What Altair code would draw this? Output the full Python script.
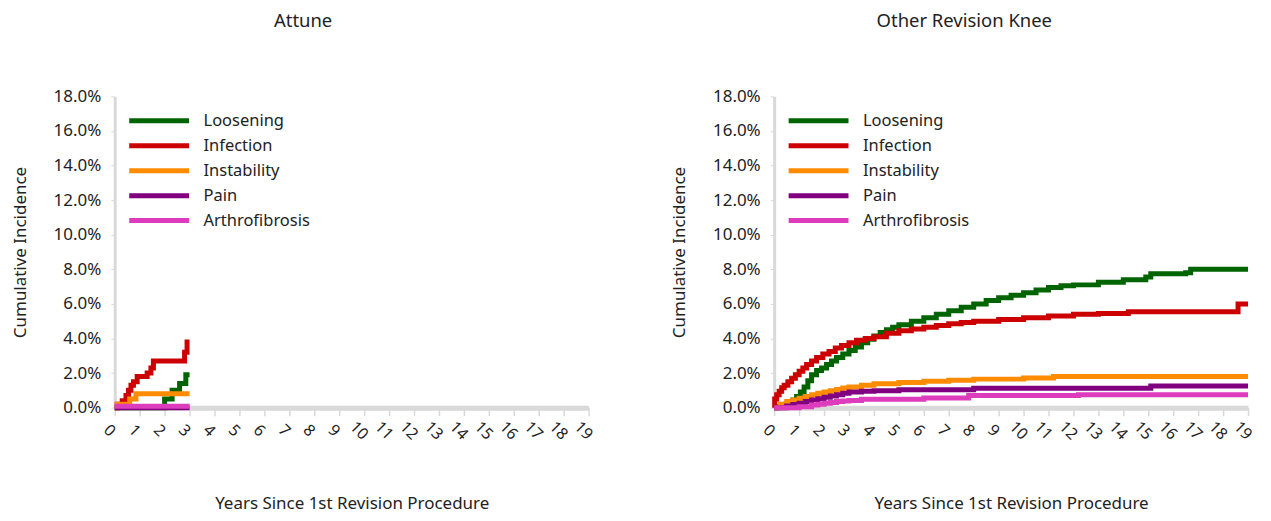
import altair as alt
import pandas as pd

series = ["Loosening", "Infection", "Instability", "Pain", "Arthrofibrosis"]
colors = ["#006400", "#CC0000", "#FF8C00", "#800080", "#DD3DBD"]
panels = ["Attune", "Other Revision Knee"]
x_ticks = list(range(0, 20))
y_ticks = [0, 0.02, 0.04, 0.06, 0.08, 0.10, 0.12, 0.14, 0.16, 0.18]

# Attune (years, cumulative incidence %)
att_loos_t = [0, 2.0, 2.3, 2.6, 2.85, 3.0]
att_loos_v = [0, 0.5, 1.0, 1.4, 1.9, 1.9]
att_inf_t = [0, 0.1, 0.3, 0.45, 0.55, 0.65, 0.75, 0.9, 1.3, 1.45, 1.55, 2.8, 2.9, 3.0]
att_inf_v = [0, 0.2, 0.4, 0.7, 1.0, 1.3, 1.5, 1.8, 2.0, 2.3, 2.7, 3.2, 3.8, 3.8]
att_inst_t = [0, 0.1, 0.6, 0.85, 3.0]
att_inst_v = [0, 0.2, 0.5, 0.8, 0.8]
att_pain_t = [0, 3.0]
att_pain_v = [0, 0]
att_arth_t = [0, 3.0]
att_arth_v = [0.08, 0.08]

# Other Revision Knee
ork_loos_t = [0, 0.15, 0.3, 0.45, 0.6, 0.75, 0.9, 1.05, 1.2, 1.35, 1.5, 1.7, 1.9, 2.1, 2.3, 2.5, 2.75,
              3.0, 3.25, 3.5, 3.75, 4.0, 4.25, 4.5, 4.75, 5.0, 5.5, 6.0, 6.5, 7.0, 7.5, 8.0, 8.5, 9.0,
              9.5, 10.0, 10.5, 11.0, 11.5, 12.0, 13.0, 14.0, 14.9, 15.1, 16.5, 16.7, 19]
ork_loos_v = [0, 0.05, 0.1, 0.2, 0.3, 0.45, 0.65, 0.9, 1.2, 1.55, 1.9, 2.15, 2.3, 2.5, 2.7, 2.9, 3.1,
              3.3, 3.5, 3.75, 3.95, 4.15, 4.35, 4.5, 4.65, 4.8, 5.0, 5.2, 5.4, 5.6, 5.8, 6.0, 6.2, 6.35,
              6.5, 6.65, 6.8, 6.95, 7.05, 7.1, 7.25, 7.4, 7.55, 7.75, 7.8, 8.0, 8.0]
ork_inf_t = [0, 0.02, 0.1, 0.2, 0.3, 0.4, 0.55, 0.7, 0.85, 1.0, 1.15, 1.3, 1.5, 1.7, 1.95, 2.2, 2.45,
             2.7, 3.0, 3.3, 3.65, 4.0, 4.5, 5.0, 5.5, 6.0, 6.5, 7.0, 7.5, 8.0, 9.0, 10.0, 11.0, 12.0,
             13.0, 14.2, 18.6, 19]
ork_inf_v = [0, 0.5, 0.75, 0.95, 1.15, 1.3, 1.5, 1.7, 1.9, 2.1, 2.3, 2.5, 2.7, 2.9, 3.1, 3.25, 3.45,
             3.6, 3.75, 3.9, 4.0, 4.1, 4.3, 4.45, 4.55, 4.65, 4.75, 4.85, 4.93, 5.0, 5.1, 5.2, 5.3, 5.4,
             5.45, 5.55, 6.0, 6.0]
ork_inst_t = [0, 0.25, 0.5, 0.75, 1.0, 1.25, 1.5, 1.75, 2.0, 2.25, 2.5, 2.75, 3.0, 3.5, 4.0, 5.0, 6.0,
              7.0, 8.0, 10.0, 11.2, 19]
ork_inst_v = [0, 0.2, 0.35, 0.45, 0.55, 0.65, 0.75, 0.83, 0.9, 0.98, 1.05, 1.13, 1.2, 1.3, 1.38, 1.45,
              1.52, 1.58, 1.65, 1.72, 1.8, 1.8]
ork_pain_t = [0, 0.5, 0.75, 1.0, 1.25, 1.5, 1.75, 2.0, 2.25, 2.5, 2.75, 3.0, 3.5, 4.0, 5.0, 8.0, 15.1, 19]
ork_pain_v = [0, 0.1, 0.18, 0.25, 0.35, 0.45, 0.52, 0.6, 0.68, 0.75, 0.83, 0.9, 0.95, 0.98, 1.04, 1.12,
              1.25, 1.25]
ork_arth_t = [0, 1.0, 1.5, 1.75, 2.0, 2.25, 2.5, 2.75, 3.0, 3.5, 6.0, 7.8, 12.2, 19]
ork_arth_v = [0, 0.05, 0.15, 0.2, 0.25, 0.3, 0.35, 0.39, 0.42, 0.48, 0.56, 0.7, 0.75, 0.75]

att = [(att_loos_t, att_loos_v), (att_inf_t, att_inf_v), (att_inst_t, att_inst_v),
       (att_pain_t, att_pain_v), (att_arth_t, att_arth_v)]
ork = [(ork_loos_t, ork_loos_v), (ork_inf_t, ork_inf_v), (ork_inst_t, ork_inst_v),
       (ork_pain_t, ork_pain_v), (ork_arth_t, ork_arth_v)]


def frame(data):
    rows = []
    for i, (ts, vs) in enumerate(data):
        for t, v in zip(ts, vs):
            rows.append({"Years": t, "Incidence": v / 100.0, "Cause": series[i], "order": i})
    return pd.DataFrame(rows)


FONT = "Noto Sans"


def panel(df, title):
    return alt.Chart(df, title=alt.TitleParams(title, fontSize=18.5, font=FONT, fontWeight="normal",
                                               color="#222222", offset=57, anchor="middle",
                                               frame="bounds")).mark_line(
        interpolate="step-after", strokeWidth=5
    ).encode(
        x=alt.X("Years:Q", scale=alt.Scale(domain=[0, 19], nice=False),
                axis=alt.Axis(values=x_ticks, title="Years Since 1st Revision Procedure",
                              labelAngle=45, labelAlign="center", labelBaseline="top",
                              labelFontSize=16, labelPadding=9,
                              titleFontSize=17, titleFontWeight="normal", titlePadding=53,
                              domainColor="#d9d9d9", domainWidth=5, tickColor="#d9d9d9",
                              tickSize=8, tickWidth=1.5, grid=False)),
        y=alt.Y("Incidence:Q", scale=alt.Scale(domain=[0, 0.18], nice=False),
                axis=alt.Axis(values=y_ticks, format=".1%", title="Cumulative Incidence",
                              labelFontSize=17, titleFontSize=17, titleFontWeight="normal",
                              titlePadding=24, domainColor="#d9d9d9", domainWidth=3,
                              tickColor="#d9d9d9", tickSize=4, grid=False, labelPadding=10)),
        color=alt.Color("Cause:N", scale=alt.Scale(domain=series, range=colors),
                        legend=alt.Legend(title=None, orient="none", legendX=32, legendY=12,
                                          symbolType="M-3,0H3", symbolSize=400,
                                          symbolStrokeWidth=5, labelFontSize=16.5,
                                          labelFont=FONT, labelColor="#222222",
                                          labelOffset=32, rowPadding=2)),
        order="order:Q",
    ).properties(width=475, height=312)


chart = alt.hconcat(panel(frame(att), panels[0]), panel(frame(ork), panels[1]), spacing=75
).resolve_scale(color="independent").resolve_legend(color="independent").configure_view(
    stroke=None
).configure_axis(labelFont=FONT, titleFont=FONT, labelColor="#222222", titleColor="#222222"
).properties(padding={"left": 3, "top": 3, "right": 5, "bottom": 5})

chart.save("out.html", embed_options={"renderer": "svg", "actions": False})
